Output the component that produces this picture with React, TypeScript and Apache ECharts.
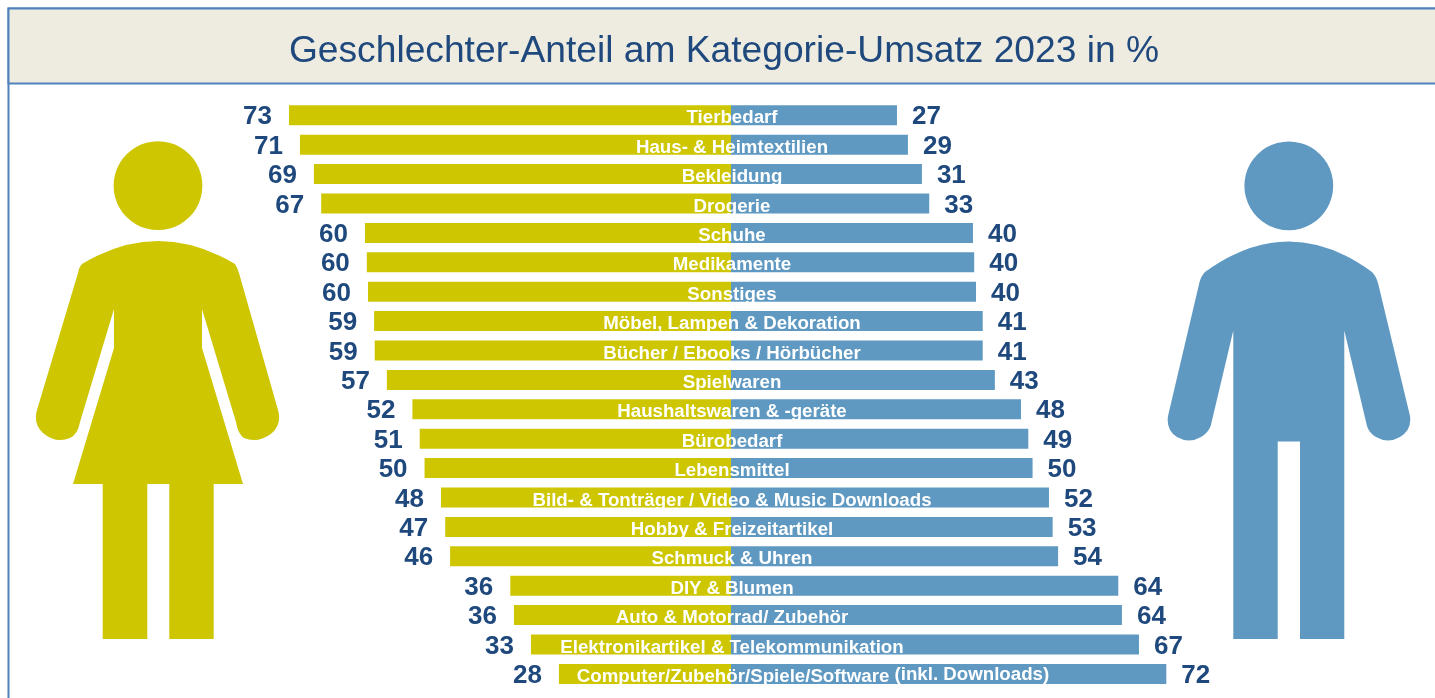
import React, { useEffect, useRef } from "react";
import * as echarts from "echarts";

const title = "Geschlechter-Anteil am Kategorie-Umsatz 2023 in %";
const categories = [
  "Tierbedarf",
  "Haus- & Heimtextilien",
  "Bekleidung",
  "Drogerie",
  "Schuhe",
  "Medikamente",
  "Sonstiges",
  "Möbel, Lampen & Dekoration",
  "Bücher / Ebooks / Hörbücher",
  "Spielwaren",
  "Haushaltswaren & -geräte",
  "Bürobedarf",
  "Lebensmittel",
  "Bild- & Tonträger / Video & Music Downloads",
  "Hobby & Freizeitartikel",
  "Schmuck & Uhren",
  "DIY & Blumen",
  "Auto & Motorrad/ Zubehör",
  "Elektronikartikel & Telekommunikation",
  "Computer/Zubehör/Spiele/Software",
];
const categorySuffix = "(inkl. Downloads)";
const frauen = [72.7, 70.9, 68.6, 67.4, 60.2, 59.9, 59.7, 58.7, 58.6, 56.6, 52.4, 51.2, 50.4, 47.7, 47.0, 46.2, 36.3, 35.7, 32.9, 28.3];
const maenner = [27.3, 29.1, 31.4, 32.6, 39.8, 40.0, 40.3, 41.4, 41.4, 43.4, 47.7, 48.9, 49.6, 52.3, 52.9, 53.8, 63.7, 64.3, 67.1, 71.6];

const YELLOW = "#cdc600";
const BLUE = "#5f99c2";
const NAVY = "#1f497d";
const FRAME = "#4f81bd";
const BAND = "#eeece1";

const womanPath =
  "M82 264 Q158 218 235 264 Q237 267 239 273 L278 410 Q282 424 272 433 Q258 444 244 438 Q238 434 236 422 L202 309 L202 348 L243 484 L213.7 484 L213.7 639 L169.3 639 L169.3 484 L147.3 484 L147.3 639 L102.7 639 L102.7 484 L73 484 L114 348 L114 309 L80 422 Q78 434 70 438 Q56 444 43 433 Q33 424 37 410 L78 273 Q79 267 82 264 Z";
const manPath =
  "M1205 272 Q1289 211 1372 272 Q1376 276 1378 283 L1410 416 Q1412 430 1400 437 Q1388 444 1376 437 Q1369 433 1367 426 L1344.3 330.4 L1344.3 639 L1300 639 L1300 441.5 L1277.7 441.5 L1277.7 639 L1233.3 639 L1233.3 330.4 L1210.7 426 Q1208 433 1201 437 Q1189 444 1177 437 Q1166 430 1168 416 L1199.3 283 Q1201 276 1205 272 Z";

echarts.graphic.registerShape("womanBody", echarts.graphic.extendPath(womanPath, {}));
echarts.graphic.registerShape("manBody", echarts.graphic.extendPath(manPath, {}));

export default function App() {
  const ref = useRef<HTMLDivElement>(null);
  useEffect(() => {
    document.body.style.margin = "0";
    const chart = echarts.init(ref.current!, undefined, { renderer: "svg" });
    const last = categories.length - 1;
    const pxPerUnit = 6.08;
    const zero = 731;
    const range = 80;
    const labelSize = 18.7;
    chart.setOption({
      animation: false,
      textStyle: { fontFamily: "'Liberation Sans', Arial, sans-serif" },
      grid: {
        left: zero - range * pxPerUnit,
        width: range * 2 * pxPerUnit,
        top: 100.6,
        height: 588,
        containLabel: false,
      },
      xAxis: { type: "value", min: -range, max: range, show: false },
      yAxis: {
        type: "category",
        inverse: true,
        data: categories,
        position: "left",
        offset: -range * pxPerUnit - 1,
        z: 10,
        axisLine: { show: false, onZero: false },
        axisTick: { show: false },
        splitLine: { show: false },
        axisLabel: {
          interval: 0,
          margin: 0,
          align: "center",
          verticalAlign: "middle",
          padding: [3, 0, 0, 0],
          color: "#ffffff",
          fontSize: labelSize,
          fontWeight: "bold",
          formatter: (v: string) =>
            v === categories[last]
              ? `{pad|\u00a0}{m|${v}} {s|${categorySuffix}}`
              : v,
          rich: {
            pad: { width: 162 },
            m: { color: "#ffffff", fontSize: labelSize, fontWeight: "bold", fontFamily: "'Liberation Sans'" },
            s: { color: "#ffffff", fontSize: labelSize, fontWeight: "bold", fontFamily: "'Liberation Sans'", padding: [0, 0, 3, 0] },
          },
        },
      },
      series: [
        {
          name: "Frauen",
          type: "bar",
          barWidth: 20,
          barGap: "-100%",
          itemStyle: { color: YELLOW },
          data: frauen.map((v) => -v),
          label: {
            show: true,
            position: "left",
            distance: 17,
            color: NAVY,
            fontSize: 26,
            fontWeight: "bold",
            formatter: (p: any) => String(Math.round(Math.abs(p.value))),
          },
        },
        {
          name: "Männer",
          type: "bar",
          barWidth: 20,
          barGap: "-100%",
          itemStyle: { color: BLUE },
          data: maenner,
          label: {
            show: true,
            position: "right",
            distance: 15,
            color: NAVY,
            fontSize: 26,
            fontWeight: "bold",
            formatter: (p: any) => String(Math.round(p.value)),
          },
        },
      ],
      graphic: [
        {
          type: "rect",
          z: -10,
          shape: { x: 8.5, y: 8.5, width: 1500, height: 800 },
          style: { fill: "#ffffff", stroke: FRAME, lineWidth: 2 },
        },
        {
          type: "rect",
          z: -9,
          shape: { x: 8.5, y: 8.5, width: 1500, height: 75 },
          style: { fill: BAND, stroke: FRAME, lineWidth: 2 },
        },
        {
          type: "text",
          z: -8,
          x: 724,
          y: 49,
          style: {
            text: title,
            fill: NAVY,
            fontSize: 37.2,
            fontFamily: "'Liberation Sans'",
            align: "center",
            verticalAlign: "middle",
          },
        },
        { type: "circle", z: -8, shape: { cx: 158, cy: 185.7, r: 44.4 }, style: { fill: YELLOW } },
        { type: "womanBody", z: -8, style: { fill: YELLOW } },
        { type: "circle", z: -8, shape: { cx: 1288.8, cy: 185.8, r: 44.4 }, style: { fill: BLUE } },
        { type: "manBody", z: -8, style: { fill: BLUE } },
      ],
    });
    return () => chart.dispose();
  }, []);
  return <div ref={ref} style={{ position: "fixed", left: 0, top: 0, width: 1435, height: 698 }} />;
}
